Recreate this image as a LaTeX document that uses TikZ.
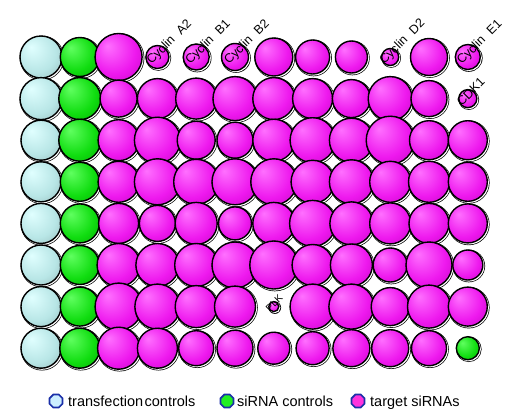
\documentclass[tikz,border=0pt]{standalone}
\usepackage{fontspec}
\setmainfont{Liberation Sans}
\usetikzlibrary{shapes.geometric}
\definecolor{magL}{HTML}{FF70FF}
\definecolor{magM}{HTML}{EE18EE}
\definecolor{magD}{HTML}{B400B4}
\definecolor{grnL}{HTML}{60FF60}
\definecolor{grnM}{HTML}{10DD10}
\definecolor{grnD}{HTML}{009A00}
\definecolor{bluL}{HTML}{E0FFFF}
\definecolor{bluM}{HTML}{B8E6E6}
\definecolor{bluD}{HTML}{8AACAC}
\definecolor{legLine}{HTML}{1A2FA8}
\definecolor{legBlue}{HTML}{CCEEFF}
\definecolor{legGreen}{HTML}{22EE22}
\definecolor{legMag}{HTML}{FF33DD}
\pgfdeclareradialshading{magball}{\pgfpoint{-12bp}{12bp}}{color(0bp)=(magL); color(24bp)=(magM); color(46bp)=(magD); color(50bp)=(magD)}
\pgfdeclareradialshading{greenball}{\pgfpoint{-12bp}{12bp}}{color(0bp)=(grnL); color(24bp)=(grnM); color(46bp)=(grnD); color(50bp)=(grnD)}
\pgfdeclareradialshading{blueball}{\pgfpoint{-12bp}{12bp}}{color(0bp)=(bluL); color(24bp)=(bluM); color(46bp)=(bluD); color(50bp)=(bluD)}
\tikzset{
  well/.style={circle, inner sep=0pt, draw=black, line width=1.4bp, shade},
  lab/.style={font=\fontsize{12.5bp}{13bp}\selectfont, inner sep=0pt, rotate=45, anchor=base west},
  legicon/.style={regular polygon, regular polygon sides=8, minimum size=14bp, inner sep=0pt, draw=legLine, line width=1.6bp},
  legtext/.style={font=\fontsize{14.5bp}{16bp}\selectfont, inner sep=0pt, anchor=base west}
}
\begin{document}
\begin{tikzpicture}[x=1bp,y=-1bp]
\useasboundingbox[fill=white] (0,0) rectangle (516,410);
\foreach \radii [count=\j] in {
 {21,19.5,23.5,11.5,13,13.5,19,17,16,8.5,18.5,12.5},
 {21,21,18.5,20,20.5,22,21,20,19,22,18,9},
 {20,21,20.5,23,19,18,21,22.5,22,24,19.5,19.5},
 {20,19.5,20.5,23,22.5,23,23,21.5,22,20.5,20.5,19.5},
 {20,19.5,20,18,21,16.5,21,23,21.5,20.5,20,19.5},
 {20,19.5,21.5,21.5,21.5,23,24,20.5,21,17,23,15},
 {20,19.5,23.5,22.5,21,20.5,5,22.5,22.5,19,21.5,19.5},
 {20,20,21,20,17.5,18,16,16.5,18.5,18.5,17.5,11.5}}{
  \foreach \r [count=\i] in \radii {
    \pgfmathsetmacro\cx{41+38.8*(\i-1)}
    \pgfmathsetmacro\cy{57+41.6*(\j-1)}
    \def\sh{magball}
    \ifnum\i=1 \def\sh{blueball}\fi
    \ifnum\i=2 \def\sh{greenball}\fi
    \ifnum\i=12 \ifnum\j=8 \def\sh{greenball}\fi\fi
    \fill[black] (\cx+1.0,\cy+1.0) circle[radius=\r+1.3];
    \fill[white] (\cx+1.0,\cy+1.0) circle[radius=\r+0.6];
    \node[well, shading=\sh, minimum size={2*\r*1bp}] (w-\j-\i) at (\cx,\cy) {};
  }
}
\node[lab] (l-a2) at ([shift={(-6,8)}]w-1-4.center) {Cyclin\hspace{8bp}A2};
\node[lab] (l-b1) at ([shift={(-6,8)}]w-1-5.center) {Cyclin\hspace{8bp}B1};
\node[lab] (l-b2) at ([shift={(-6,8)}]w-1-6.center) {Cyclin\hspace{8bp}B2};
\node[lab] (l-d2) at ([shift={(-6,8)}]w-1-10.center) {Cyclin\hspace{8bp}D2};
\node[lab] (l-e1) at ([shift={(-6,8)}]w-1-12.center) {Cyclin\hspace{8bp}E1};
\node[lab] (l-cdk) at ([shift={(-6,8)}]w-2-12.center) {CDK1};
\node[lab, font=\fontsize{10bp}{11bp}\selectfont] (l-plk) at ([shift={(-4,6)}]w-7-7.center) {PLK};
% legend
\node[legicon, fill=legBlue] (i1) at (56,401) {};
\node[legtext] (t1) at (68,406.5) {transfection\hspace{1.5bp}controls};
\node[legicon, fill=legGreen] (i2) at (227,401) {};
\node[legtext] (t2) at (237,406.5) {siRNA controls};
\node[legicon, fill=legMag] (i3) at (358,401) {};
\node[legtext] (t3) at (370,406.5) {target siRNAs};
\end{tikzpicture}
\end{document}
